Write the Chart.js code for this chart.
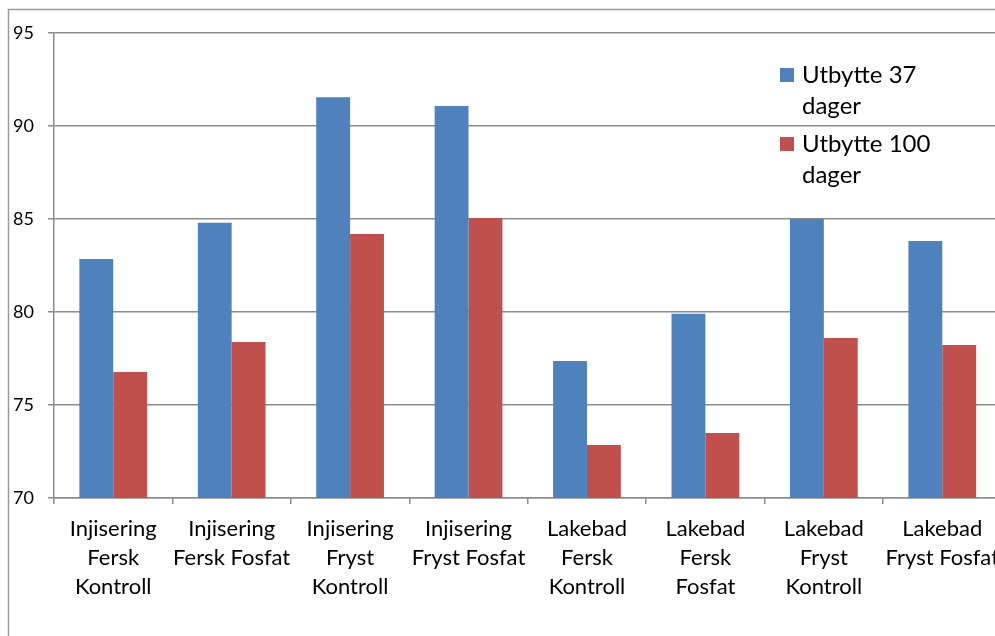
<!DOCTYPE html>
<html>
<head>
<meta charset="utf-8">
<script src="https://cdn.jsdelivr.net/npm/chart.js@4"></script>
<style>
  html, body { margin: 0; padding: 0; overflow: hidden; background: #fff; }
  #wrap { position: absolute; left: 0; top: 0; width: 1010px; height: 636px; }
</style>
</head>
<body>
<div id="wrap"><canvas id="chart" width="1010" height="636"></canvas></div>
<script>
// categories (multi-line labels like the original)
const categories = [
    ['Injisering', 'Fersk', 'Kontroll'],
    ['Injisering', 'Fersk Fosfat'],
    ['Injisering', 'Fryst', 'Kontroll'],
    ['Injisering', 'Fryst Fosfat'],
    ['Lakebad', 'Fersk', 'Kontroll'],
    ['Lakebad', 'Fersk', 'Fosfat'],
    ['Lakebad', 'Fryst', 'Kontroll'],
    ['Lakebad', 'Fryst Fosfat']
];
const utbytte37 = [82.85, 84.8, 91.55, 91.08, 77.37, 79.9, 85.0, 83.82];
const utbytte100 = [76.77, 78.39, 84.2, 85.05, 72.85, 73.5, 78.6, 78.23];
const seriesNames = ['Utbytte 37 dager', 'Utbytte 100 dager'];
const yMin = 70, yMax = 95, yStep = 5;

const FONT = 'Lato, "Open Sans", sans-serif';
const gridColor = '#8c8c8c';

// outer frame of the chart area (cut by the window like the picture)
const framePlugin = {
    id: 'frame',
    beforeDraw(chart) {
        const ctx = chart.ctx;
        ctx.save();
        ctx.strokeStyle = '#9a9a9a';
        ctx.lineWidth = 1.5;
        ctx.strokeRect(8.5, 9.5, chart.width + 20, chart.height + 20);
        ctx.restore();
    }
};

// legend drawn inside the plot, text wrapped on two lines
const legendPlugin = {
    id: 'wrapLegend',
    afterDraw(chart) {
        const ctx = chart.ctx;
        ctx.save();
        ctx.font = '24px ' + FONT;
        ctx.textBaseline = 'middle';
        let y = 75;
        chart.data.datasets.forEach(ds => {
            const words = ds.label.split(' ');
            const last = words.pop();
            ctx.fillStyle = ds.backgroundColor;
            ctx.fillRect(780, y - 7, 14, 14);
            ctx.fillStyle = '#000';
            ctx.fillText(words.join(' '), 802, y);
            ctx.fillText(last, 802, y + 31);
            y += 69;
        });
        ctx.restore();
    }
};

new Chart(document.getElementById('chart'), {
    type: 'bar',
    data: {
        labels: categories,
        datasets: [
            { label: seriesNames[0], data: utbytte37, backgroundColor: '#4F81BD' },
            { label: seriesNames[1], data: utbytte100, backgroundColor: '#C0504D' }
        ]
    },
    options: {
        responsive: false,
        animation: false,
        layout: { padding: { left: 0, top: 33, right: 8.5, bottom: 0 } },
        datasets: { bar: { categoryPercentage: 0.572, barPercentage: 1 } },
        plugins: { legend: { display: false }, tooltip: { enabled: false } },
        scales: {
            x: {
                afterFit(scale) { scale.height = 138; },
                grid: { offset: true, drawOnChartArea: false, drawTicks: true, tickLength: 6, color: gridColor, lineWidth: 1.5 },
                border: { color: gridColor, width: 1.5 },
                ticks: { color: '#000', font: { family: FONT, size: 22, lineHeight: 1.32 }, padding: 10, maxRotation: 0, autoSkip: false }
            },
            y: {
                min: yMin,
                max: yMax,
                afterFit(scale) { scale.width = 54; },
                grid: { color: gridColor, lineWidth: 1.5, tickLength: 6 },
                border: { color: gridColor, width: 1.5 },
                ticks: { stepSize: yStep, color: '#000', font: { family: FONT, size: 18 }, padding: 14 }
            }
        }
    },
    plugins: [framePlugin, legendPlugin]
});
</script>
</body>
</html>
